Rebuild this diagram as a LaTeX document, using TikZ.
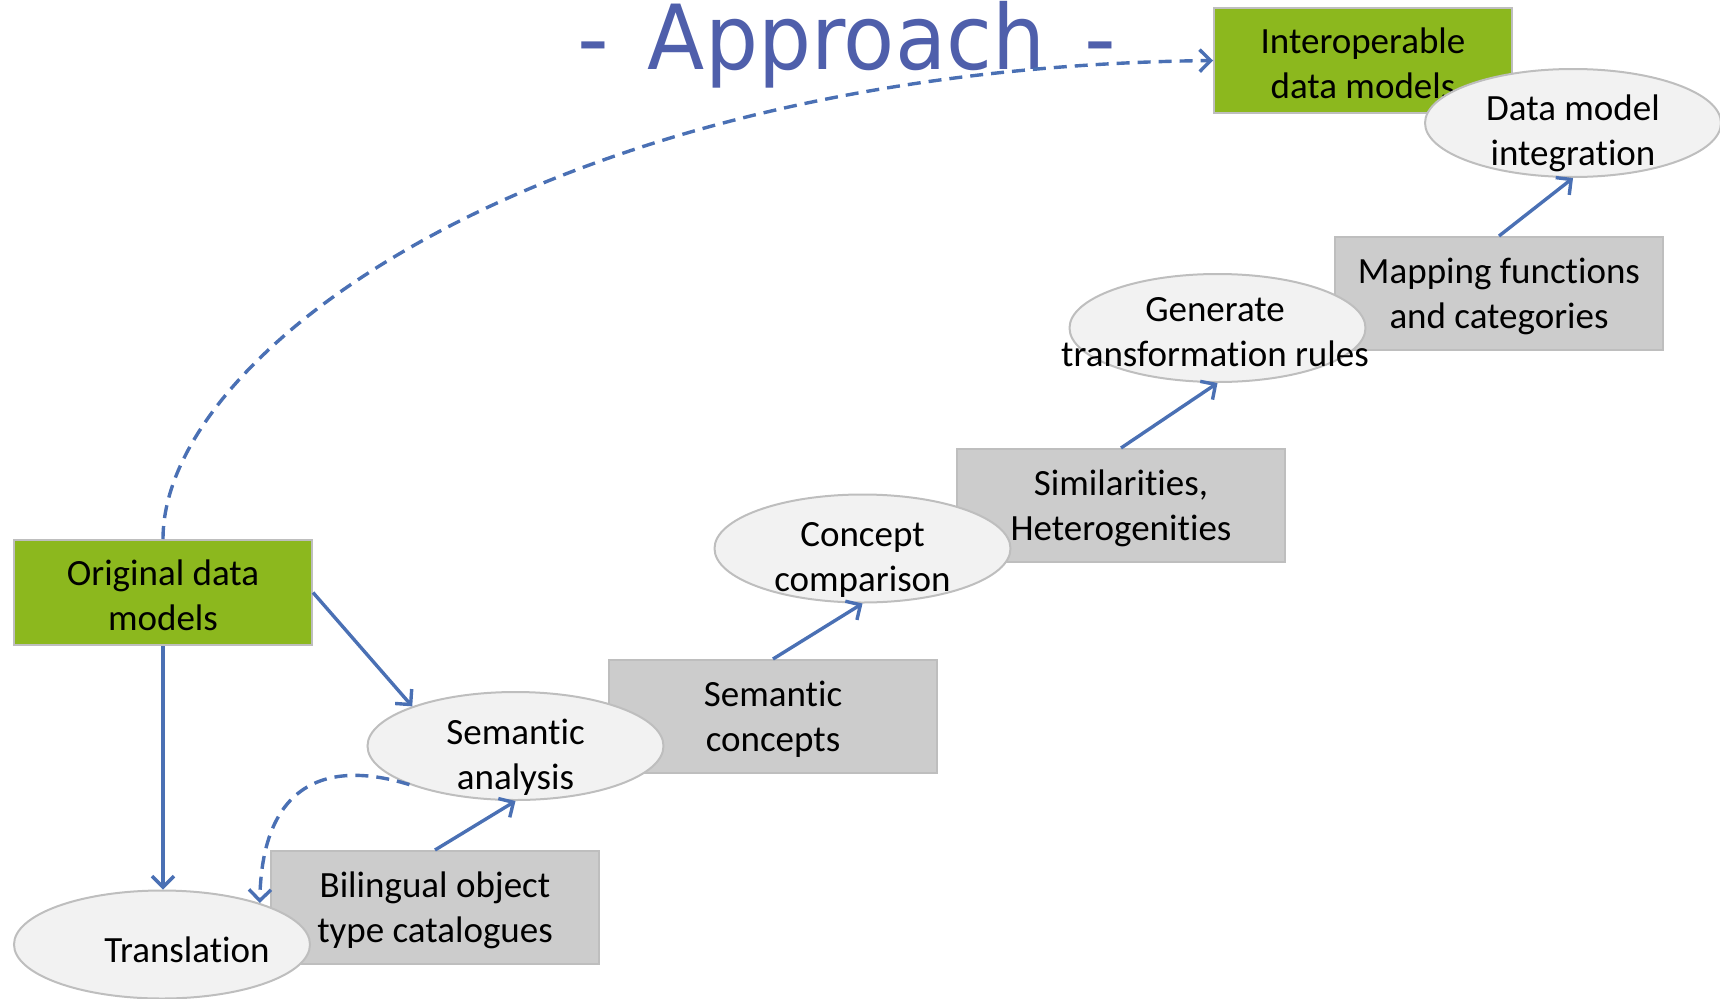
\documentclass[tikz,border=0pt]{standalone}
\usepackage{fontspec}
\setmainfont[RawFeature={-liga}]{Carlito}
\newfontfamily\headfont{DejaVu Sans}
\usetikzlibrary{arrows.meta,shapes.geometric}

\definecolor{leaf}{HTML}{8CB81E}
\definecolor{stone}{HTML}{CCCCCC}
\definecolor{edgegray}{HTML}{BEBEBE}
\definecolor{ovalfill}{HTML}{F2F2F2}
\definecolor{flowblue}{HTML}{4A70B4}
\definecolor{headblue}{HTML}{4F5FAB}

\newcommand{\labelsize}{\fontsize{37pt}{45pt}\selectfont}

\tikzset{
  greenbox/.style={draw=edgegray, line width=2pt, fill=leaf, minimum width=298pt,
    minimum height=105pt, inner sep=0pt},
  graybox/.style={draw=edgegray, line width=2pt, fill=stone, minimum width=328pt,
    minimum height=113pt, inner sep=0pt},
  oval/.style={ellipse, draw=edgegray, line width=2pt, fill=ovalfill,
    minimum width=296pt, minimum height=108pt, inner sep=0pt},
  boxtext/.style={align=center, inner sep=0pt, font=\labelsize, yshift=-3pt},
  ovaltext/.style={align=center, inner sep=0pt, font=\labelsize},
  flow/.style={draw=flowblue, line width=3.4pt,
    -{Straight Barb[length=11pt,width=22pt]}},
  dashflow/.style={flow, dash pattern=on 13pt off 8pt}
}

\begin{document}
\begin{tikzpicture}[x=1pt,y=-1pt]
\useasboundingbox (0,0) rectangle (1720,998);

% heading
\node[anchor=base west, inner sep=0pt, text=headblue,
      font=\headfont\fontsize{88pt}{100pt}\selectfont] (head) at (577,70)
      {-\hspace{39pt}\scalebox{0.95}[1.02]{Approach}\hspace{39pt}-};

% result boxes (green)
\node[greenbox] (orig) at (163,592.5) {};
\node[greenbox] (interop) at (1363,60.5) {};

% intermediate products (gray)
\node[graybox] (bil) at (435,907.5) {};
\node[graybox] (sc) at (773,716.5) {};
\node[graybox] (sim) at (1121,505.5) {};
\node[graybox] (map) at (1499,293.5) {};

\node[boxtext] (origtxt) at (orig) {Original data\\models};
\node[boxtext] (interoptxt) at (interop) {Interoperable\\data models};
\node[boxtext] (biltxt) at (bil) {Bilingual object\\type catalogues};
\node[boxtext] (sctxt) at (sc) {Semantic\\concepts};
\node[boxtext] (simtxt) at (sim) {Similarities,\\Heterogenities};
\node[boxtext] (maptxt) at (map) {Mapping functions\\and categories};

% process steps (ellipses)
\node[oval] (tr) at (162,944.5) {};
\node[oval] (sa) at (515.5,746) {};
\node[oval] (cc) at (862.5,548.5) {};
\node[oval] (gen) at (1217.5,328) {};
\node[oval] (dm) at (1573,123) {};

\node[ovaltext] (trtxt) at (187,950) {Translation};
\node[ovaltext] (satxt) at (515.5,757) {Semantic\\analysis};
\node[ovaltext] (cctxt) at (862.5,560) {Concept\\comparison};
\node[ovaltext] (gentxt) at (1215,332) {Generate\\transformation rules};
\node[ovaltext] (dmtxt) at (1573,133) {Data model\\integration};

% solid flow
\draw[flow] (orig.south) -- (orig.south |- tr.north);
\draw[flow] (orig.east) -- (sa.159);
\draw[flow] (bil.north) -- (sa.south);
\draw[flow] (sc.north) -- (cc.south);
\draw[flow] (sim.north) -- (gen.south);
\draw[flow] (map.north) -- (dm.south);

% dashed feedback
\draw[dashflow] (orig.north) .. controls (163,350) and (550,68) .. (interop.west);
\draw[dashflow] (sa.200) .. controls (330,760) and (262,780) .. (tr.23);
\end{tikzpicture}
\end{document}
